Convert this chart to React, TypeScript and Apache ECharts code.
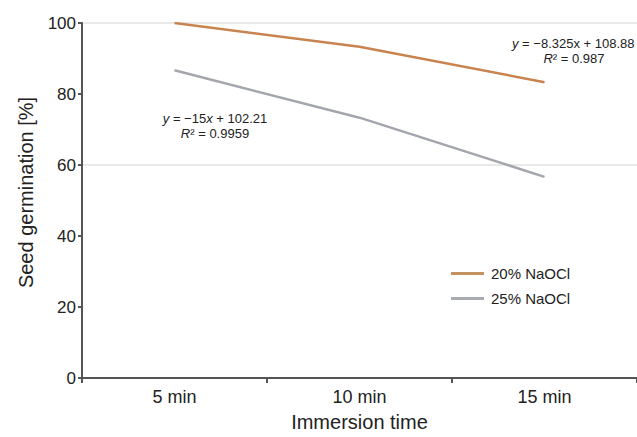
import React, { useEffect, useRef } from "react";
import * as echarts from "echarts";

const categories = ["5 min", "10 min", "15 min"];
const naocl20 = [100, 93.33, 83.33];
const naocl25 = [86.67, 73.33, 56.67];
const yTicks = [0, 20, 40, 60, 80, 100];
const seriesNames = ["20% NaOCl", "25% NaOCl"];

export default function App() {
  const ref = useRef<HTMLDivElement>(null);
  useEffect(() => {
    if (!ref.current) return;
    const chart = echarts.init(ref.current, undefined, { renderer: "svg" });
    const font = "'Liberation Sans', Arial, sans-serif";
    const rich = { i: { fontStyle: "italic", fontFamily: font, fontSize: 13, fill: "#222" } };
    chart.setOption({
      animation: false,
      backgroundColor: "#ffffff",
      grid: { left: 82, right: -9, top: 23, bottom: 56, containLabel: false },
      legend: {
        orient: "vertical",
        left: 446,
        top: 261,
        itemWidth: 33,
        itemHeight: 3,
        itemGap: 10,
        icon: "rect",
        textStyle: { fontFamily: font, fontSize: 15, color: "#222", padding: [0, 0, 0, 2] },
        data: seriesNames,
      },
      xAxis: {
        type: "category",
        data: categories,
        boundaryGap: true,
        name: "Immersion time",
        nameLocation: "middle",
        nameGap: 34,
        nameTextStyle: { fontFamily: font, fontSize: 20, color: "#222" },
        axisLine: { lineStyle: { color: "#555", width: 2 } },
        axisTick: { show: true, length: 5, lineStyle: { color: "#555", width: 2 } },
        axisLabel: { fontFamily: font, fontSize: 18, color: "#222", margin: 10 },
        splitLine: { show: false },
      },
      yAxis: {
        type: "value",
        min: yTicks[0],
        max: yTicks[yTicks.length - 1],
        interval: 20,
        name: "Seed germination [%]",
        nameLocation: "middle",
        nameGap: 46,
        nameTextStyle: { fontFamily: font, fontSize: 20, color: "#222", padding: [0, 0, 0, 16] },
        axisLine: { show: true, lineStyle: { color: "#555", width: 2 } },
        axisTick: { show: true, length: 4, lineStyle: { color: "#555", width: 2 } },
        axisLabel: { fontFamily: font, fontSize: 17, color: "#222", margin: 6 },
        splitLine: {
          show: true,
          lineStyle: {
            color: ["transparent", "transparent", "transparent", "#e2e2e2", "transparent", "#e2e2e2"],
            width: 1.5,
          },
        },
      },
      series: [
        {
          name: seriesNames[0],
          type: "line",
          data: naocl20,
          symbol: "none",
          lineStyle: { color: "#c98350", width: 2.5 },
          itemStyle: { color: "#c4925f" },
        },
        {
          name: seriesNames[1],
          type: "line",
          data: naocl25,
          symbol: "none",
          lineStyle: { color: "#a3a6ad", width: 2.5 },
          itemStyle: { color: "#a8abb2" },
        },
      ],
      graphic: [
        {
          type: "text",
          x: 215,
          y: 118,
          style: {
            text: "{i|y} = −15{i|x} + 102.21",
            rich,
            font: `13px ${font}`,
            fill: "#222",
            align: "center",
            verticalAlign: "middle",
          },
        },
        {
          type: "text",
          x: 215,
          y: 133,
          style: {
            text: "{i|R}² = 0.9959",
            rich,
            font: `13px ${font}`,
            fill: "#222",
            align: "center",
            verticalAlign: "middle",
          },
        },
        {
          type: "text",
          x: 512,
          y: 43,
          style: {
            text: "{i|y} = −8.325x + 108.88",
            rich,
            font: `13px ${font}`,
            fill: "#222",
            align: "left",
            verticalAlign: "middle",
          },
        },
        {
          type: "text",
          x: 574,
          y: 58,
          style: {
            text: "{i|R}² = 0.987",
            rich,
            font: `13px ${font}`,
            fill: "#222",
            align: "center",
            verticalAlign: "middle",
          },
        },
      ],
    });
    return () => chart.dispose();
  }, []);
  return (
    <div
      ref={ref}
      style={{ position: "fixed", left: 0, top: 0, width: 637, height: 437 }}
    />
  );
}
